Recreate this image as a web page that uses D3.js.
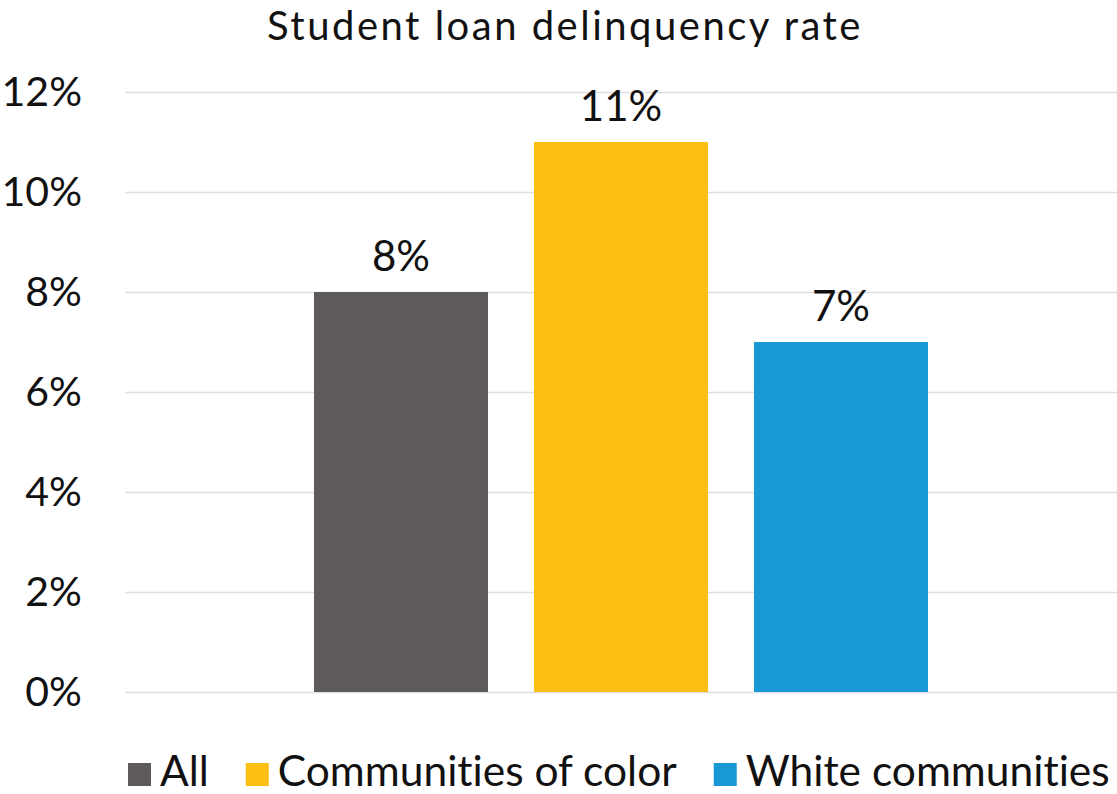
<!DOCTYPE html>
<html>
<head>
<meta charset="utf-8">
<script src="https://cdn.jsdelivr.net/npm/d3@7"></script>
<style>
  html, body { margin: 0; padding: 0; background: #fff; }
  svg { display: block; font-family: Lato, "Open Sans", sans-serif; font-variant-ligatures: none; }
</style>
</head>
<body>
<svg id="chart" width="1117" height="794"></svg>
<script>
// Student loan delinquency rate, by community
const categories = ["All", "Communities of color", "White communities"];
const values = [8, 11, 7];
const colors = ["#5e5a5b", "#fcbf14", "#1898d4"];
const yTicks = [0, 2, 4, 6, 8, 10, 12];
const title = "Student loan delinquency rate";

const width = 1117, height = 794;
const margin = { top: 92, right: 0, bottom: 102, left: 125 };
const svg = d3.select("#chart");

const y = d3.scaleLinear()
  .domain([0, 12])
  .range([height - margin.bottom, margin.top]);

// one group holding the three series bars
const x0 = d3.scaleBand()
  .domain(["rate"])
  .range([margin.left, width - margin.right])
  .paddingInner(0.381)
  .paddingOuter(0.1905);

const x1 = d3.scaleBand()
  .domain(categories)
  .range([0, x0.bandwidth()])
  .paddingInner(0.209)
  .paddingOuter(0);

// gridlines
const grid = d3.axisLeft(y)
  .tickValues(yTicks)
  .tickSize(-(width - margin.left - margin.right))
  .tickFormat("");
svg.append("g")
  .attr("transform", `translate(${margin.left},0)`)
  .call(grid)
  .call(g => g.select(".domain").remove())
  .call(g => g.selectAll("line").attr("stroke", "#dedede").attr("stroke-width", 1.6));

// y tick labels
const yAxis = d3.axisLeft(y)
  .tickValues(yTicks)
  .tickSize(0)
  .tickPadding(43)
  .tickFormat(d => d + "%");
svg.append("g")
  .attr("transform", `translate(${margin.left},0)`)
  .call(yAxis)
  .call(g => g.select(".domain").remove())
  .call(g => g.selectAll("text")
    .attr("font-family", "Lato, sans-serif")
    .attr("font-size", 41)
    .attr("fill", "#111"));

// bars
const group = svg.append("g")
  .attr("transform", `translate(${x0("rate")},0)`);

group.selectAll("rect")
  .data(categories)
  .join("rect")
  .attr("x", d => x1(d))
  .attr("width", x1.bandwidth())
  .attr("y", (d, i) => y(values[i]))
  .attr("height", (d, i) => y(0) - y(values[i]))
  .attr("fill", (d, i) => colors[i]);

// value labels
group.selectAll("text.value")
  .data(categories)
  .join("text")
  .attr("class", "value")
  .attr("x", d => x1(d) + x1.bandwidth() / 2)
  .attr("y", (d, i) => y(values[i]) - 21)
  .attr("text-anchor", "middle")
  .attr("font-size", 42)
  .attr("fill", "#111")
  .text((d, i) => values[i] + "%");

// title
svg.append("text")
  .attr("x", 565)
  .attr("y", 40)
  .attr("text-anchor", "middle")
  .attr("font-size", 40)
  .attr("letter-spacing", 2.5)
  .attr("fill", "#111")
  .text(title);

// legend
const legend = svg.append("g").attr("transform", "translate(128,0)");
const sw = 23, gapText = 9, gapItem = 37;
let cx = 0;
categories.forEach((c, i) => {
  const item = legend.append("g").attr("transform", `translate(${cx},0)`);
  item.append("rect")
    .attr("x", 0).attr("y", 763)
    .attr("width", sw).attr("height", sw)
    .attr("fill", colors[i]);
  const t = item.append("text")
    .attr("x", sw + gapText)
    .attr("y", 786)
    .attr("font-size", 42.5)
    .attr("fill", "#111")
    .text(c);
  cx += sw + gapText + t.node().getComputedTextLength() + gapItem;
});
</script>
</body>
</html>
